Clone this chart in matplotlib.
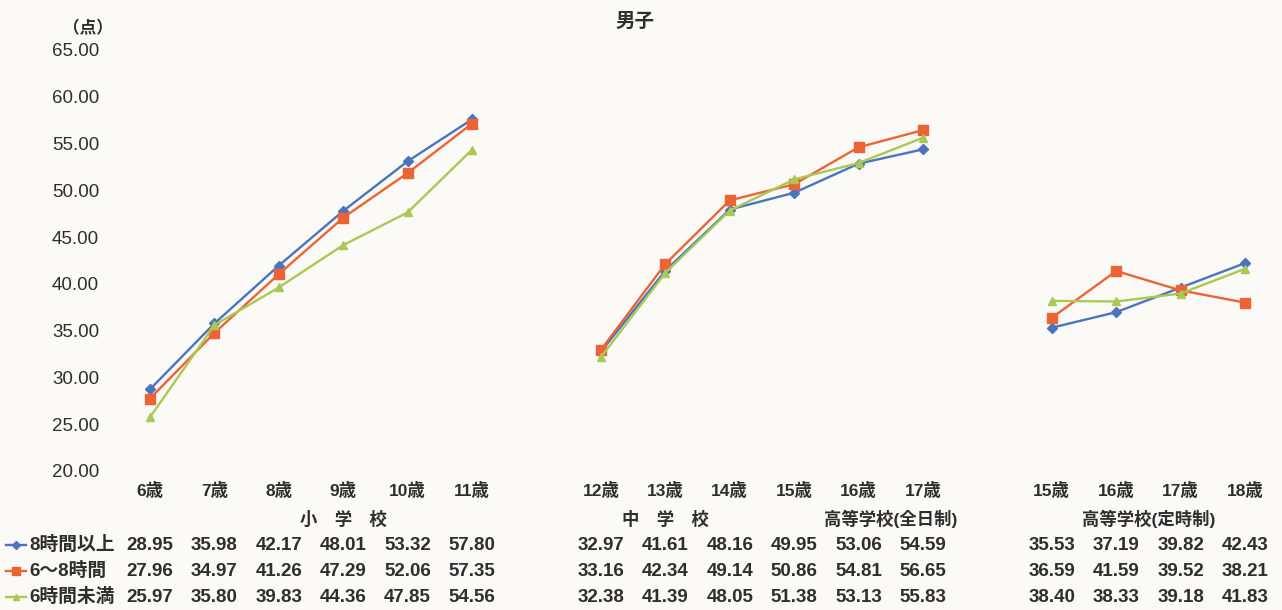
import matplotlib.pyplot as plt
from matplotlib.transforms import blended_transform_factory

plt.rcParams['font.family'] = ['Liberation Sans', 'Noto Sans CJK JP', 'DejaVu Sans']

# column positions: 小学校 0-5, 中学校+高校(全日制) 7-12, 高校(定時制) 14-17
ages = ['6歳', '7歳', '8歳', '9歳', '10歳', '11歳',
        '12歳', '13歳', '14歳', '15歳', '16歳', '17歳',
        '15歳', '16歳', '17歳', '18歳']
xpos = [0, 1, 2, 3, 4, 5, 7, 8, 9, 10, 11, 12, 14, 15, 16, 17]
groups = [(0, 5), (7, 12), (14, 17)]

series_names = ['8時間以上', '6～8時間', '6時間未満']
over8 = [28.95, 35.98, 42.17, 48.01, 53.32, 57.80,
         32.97, 41.61, 48.16, 49.95, 53.06, 54.59,
         35.53, 37.19, 39.82, 42.43]
h6to8 = [27.96, 34.97, 41.26, 47.29, 52.06, 57.35,
         33.16, 42.34, 49.14, 50.86, 54.81, 56.65,
         36.59, 41.59, 39.52, 38.21]
under6 = [25.97, 35.80, 39.83, 44.36, 47.85, 54.56,
          32.38, 41.39, 48.05, 51.38, 53.13, 55.83,
          38.40, 38.33, 39.18, 41.83]

school_labels = ['小　学　校', '中　学　校', '高等学校(全日制)', '高等学校(定時制)']
school_x = [3, 8, 11.5, 15.5]

yticks = [20, 25, 30, 35, 40, 45, 50, 55, 60, 65]

colors = ['#4a74bd', '#ec6436', '#a9c954']
markers = ['D', 's', '^']
msizes = [5, 7, 6]
values = [over8, h6to8, under6]

bg = '#fbfaf6'
txt = '#2e2e2e'

fig = plt.figure(figsize=(12.82, 6.10), dpi=100, facecolor=bg)
ax = fig.add_axes([0, 0.2246, 1, 0.6902])
ax.set_facecolor(bg)
ax.set_xlim(-2.329, 17.574)
ax.set_ylim(20, 65)
ax.axis('off')

for vals, c, m, ms in zip(values, colors, markers, msizes):
    for a, b in groups:
        idx = [i for i, x in enumerate(xpos) if a <= x <= b]
        ax.plot([xpos[i] for i in idx], [vals[i] for i in idx], color=c,
                lw=1.7, marker=m, ms=ms, mec=c, mfc=c)

# y tick labels
ty = blended_transform_factory(fig.transFigure, ax.transData)
for t in yticks:
    ax.text(99 / 1282, t, f'{t:.2f}', transform=ty, ha='right', va='center',
            fontsize=13.5, color=txt)
fig.text(88 / 1282, 1 - 28 / 610, '（点）', ha='center', va='center',
         fontsize=12, color=txt, weight='bold')
fig.text(635 / 1282, 1 - 22 / 610, '男子', ha='center', va='center',
         fontsize=14, color=txt, weight='bold')

# table below the plot
tx = blended_transform_factory(ax.transData, fig.transFigure)
for x, lab in zip(xpos, ages):
    ax.text(x, 1 - 490 / 610, lab, transform=tx, ha='center', va='center',
            fontsize=12.5, color=txt, weight='bold')
for x, lab in zip(school_x, school_labels):
    ax.text(x, 1 - 519 / 610, lab, transform=tx, ha='center', va='center',
            fontsize=12.5, color=txt, weight='bold')

row_y = [545, 571, 597]
for vals, name, c, m, ms, ry in zip(values, series_names, colors, markers, msizes, row_y):
    fy = 1 - ry / 610
    key = plt.Line2D([6 / 1282, 16 / 1282, 26 / 1282], [fy, fy, fy], color=c,
                     lw=1.7, marker=m, ms=ms - 1, mec=c, mfc=c, markevery=[1],
                     transform=fig.transFigure)
    fig.add_artist(key)
    fig.text(29 / 1282, fy, name, ha='left', va='center', fontsize=13.5,
             color=txt, weight='bold')
    for x, v in zip(xpos, vals):
        ax.text(x, fy, f'{v:.2f}', transform=tx, ha='center', va='center',
                fontsize=13.5, color=txt, weight='bold')

fig.savefig('out.png', dpi=100, facecolor=bg)
